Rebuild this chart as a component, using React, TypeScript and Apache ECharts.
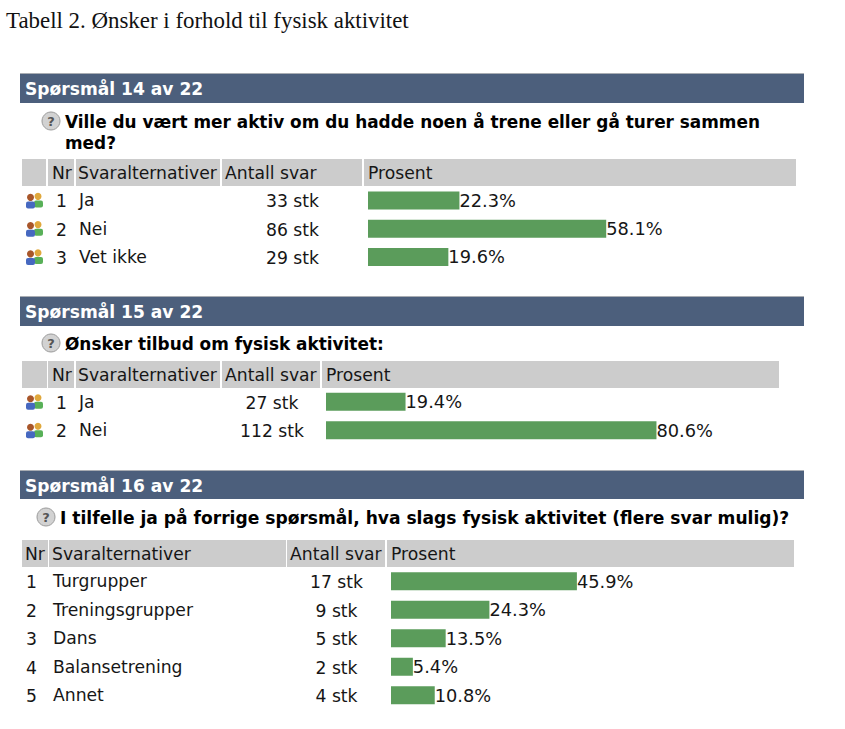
import React, { useEffect, useRef } from "react";
import * as echarts from "echarts";

const pageTitle = "Tabell 2. Ønsker i forhold til fysisk aktivitet";
const headerLabels = ["Nr", "Svaralternativer", "Antall svar", "Prosent"];

const q14Banner = "Spørsmål 14 av 22";
const q14Lines = ["Ville du vært mer aktiv om du hadde noen å trene eller gå turer sammen", "med?"];
const q14Options = ["Ja", "Nei", "Vet ikke"];
const q14Counts = ["33 stk", "86 stk", "29 stk"];
const q14Percent = [22.3, 58.1, 19.6];

const q15Banner = "Spørsmål 15 av 22";
const q15Lines = ["Ønsker tilbud om fysisk aktivitet:"];
const q15Options = ["Ja", "Nei"];
const q15Counts = ["27 stk", "112 stk"];
const q15Percent = [19.4, 80.6];

const q16Banner = "Spørsmål 16 av 22";
const q16Lines = ["I tilfelle ja på forrige spørsmål, hva slags fysisk aktivitet (flere svar mulig)?"];
const q16Options = ["Turgrupper", "Treningsgrupper", "Dans", "Balansetrening", "Annet"];
const q16Counts = ["17 stk", "9 stk", "5 stk", "2 stk", "4 stk"];
const q16Percent = [45.9, 24.3, 13.5, 5.4, 10.8];

const FONT = "'DejaVu Sans', Verdana, sans-serif";
const INK = "#161616";
const BODY_SIZE = 17.2;
const BOLD_SIZE = 16.9;

const txt = (text: string, x: number, y: number, extra: any = {}) => ({
  type: "text",
  x,
  y,
  silent: true,
  style: { text, fontFamily: FONT, fontSize: BODY_SIZE, fill: INK, textVerticalAlign: "middle", ...extra },
});
const rect = (x0: number, y0: number, x1: number, y1: number, fill: string) => ({
  type: "rect",
  silent: true,
  shape: { x: x0, y: y0, width: x1 - x0, height: y1 - y0 },
  style: { fill },
});

const peopleIcon = (x: number, y: number) => ({
  type: "group",
  x,
  y,
  silent: true,
  children: [
    { type: "circle", shape: { cx: 13, cy: 4, r: 3.5 }, style: { fill: "#e0a83c" } },
    { type: "rect", shape: { x: 9, y: 8, width: 9, height: 7, r: 2 }, style: { fill: "#58b058" } },
    { type: "circle", shape: { cx: 5.5, cy: 5, r: 3.5 }, style: { fill: "#a8562a" } },
    { type: "rect", shape: { x: 1, y: 9, width: 9, height: 7, r: 2 }, style: { fill: "#4668c0" } },
  ],
});

const helpIcon = (cx: number, cy: number) => ({
  type: "group",
  silent: true,
  children: [
    { type: "circle", shape: { cx, cy, r: 9 }, style: { fill: "#d2d2d2", stroke: "#9a9a9a", lineWidth: 1 } },
    txt("?", cx, cy + 0.5, { fontSize: 13, fontWeight: "bold", fill: "#555", textAlign: "center" }),
  ],
});

type Block = {
  banner: string;
  bannerTop: number;
  bannerBottom: number;
  lines: string[];
  lineY: number;
  lineX: number;
  helpX: number;
  boldSize: number;
  headTop: number;
  headBottom: number;
  cells: [number, number][];
  labelX: number[];
  hasIcons: boolean;
  nrX: number;
  countX: number;
  counts: string[];
  rowTop: number;
  pitch: number;
  barLeft: number;
  pxPerPct: number;
  options: string[];
  values: number[];
  optionX: number;
};

const blocks: Block[] = [
  {
    banner: q14Banner, bannerTop: 74, bannerBottom: 103, lines: q14Lines, lineY: 122, lineX: 65, helpX: 51, boldSize: BOLD_SIZE,
    headTop: 159, headBottom: 186, cells: [[22, 46], [48, 74], [76, 220], [222, 362], [364, 796]],
    labelX: [52, 78, 225, 368], hasIcons: true, nrX: 56, countX: 292.5, counts: q14Counts,
    rowTop: 186.25, pitch: 28.25, barLeft: 368, pxPerPct: 4.1, options: q14Options, values: q14Percent, optionX: 79,
  },
  {
    banner: q15Banner, bannerTop: 297, bannerBottom: 326, lines: q15Lines, lineY: 344, lineX: 65, helpX: 51, boldSize: BOLD_SIZE,
    headTop: 361, headBottom: 388, cells: [[22, 47], [48, 74], [76, 220], [222, 320], [322, 779]],
    labelX: [52, 78, 225, 326], hasIcons: true, nrX: 56, countX: 272, counts: q15Counts,
    rowTop: 387.5, pitch: 28.5, barLeft: 326, pxPerPct: 4.1, options: q15Options, values: q15Percent, optionX: 79,
  },
  {
    banner: q16Banner, bannerTop: 471, bannerBottom: 499, lines: q16Lines, lineY: 518, lineX: 60, helpX: 46, boldSize: 17.1,
    headTop: 540, headBottom: 567, cells: [[22, 48], [49, 286], [287, 385], [387, 794]],
    labelX: [25, 52, 290, 391], hasIcons: false, nrX: 26, countX: 336.5, counts: q16Counts,
    rowTop: 567, pitch: 28.5, barLeft: 391, pxPerPct: 4.05, options: q16Options, values: q16Percent, optionX: 53,
  },
];

function buildOption() {
  const graphic: any[] = [txt(pageTitle, 6, 20.5, { fontFamily: "'Liberation Serif', serif", fontSize: 22.9, fill: "#111" })];
  const grid: any[] = [];
  const xAxis: any[] = [];
  const yAxis: any[] = [];
  const series: any[] = [];

  blocks.forEach((b, i) => {
    graphic.push(rect(20, b.bannerTop - 1, 804, b.bannerTop, "#a9adb3"));
    graphic.push(rect(20, b.bannerTop, 804, b.bannerBottom, "#4c5f7c"));
    graphic.push(txt(b.banner, 25, (b.bannerTop + b.bannerBottom) / 2 + 0.5, { fontWeight: "bold", fontSize: 17.1, fill: "#ffffff" }));
    b.lines.forEach((line, k) => graphic.push(txt(line, b.lineX, b.lineY + k * 21, { fontWeight: "bold", fontSize: b.boldSize, fill: "#000" })));
    graphic.push(helpIcon(b.helpX, b.lineY - 1));
    b.cells.forEach(([a, c]) => graphic.push(rect(a, b.headTop, c, b.headBottom, "#cccccc")));
    headerLabels.forEach((h, k) => graphic.push(txt(h, b.labelX[k], (b.headTop + b.headBottom) / 2 + 0.5)));
    b.options.forEach((_, r) => {
      const cy = b.rowTop + b.pitch * (r + 0.5) + 1;
      if (b.hasIcons) graphic.push(peopleIcon(25, cy - 9));
      graphic.push(txt(String(r + 1), b.nrX, cy));
      graphic.push(txt(b.counts[r], b.countX, cy, { textAlign: "center" }));
    });

    grid.push({
      left: b.barLeft,
      top: b.rowTop,
      width: b.pxPerPct * 100,
      height: b.pitch * b.options.length,
      containLabel: false,
    });
    xAxis.push({ type: "value", gridIndex: i, min: 0, max: 100, show: false });
    yAxis.push({
      type: "category",
      gridIndex: i,
      inverse: true,
      data: b.options,
      axisLine: { show: false },
      axisTick: { show: false },
      splitLine: { show: false },
      axisLabel: {
        align: "left",
        margin: b.barLeft - b.optionX,
        fontFamily: FONT,
        fontSize: BODY_SIZE,
        color: INK,
        padding: [2, 0, 0, 0],
      },
    });
    series.push({
      type: "bar",
      xAxisIndex: i,
      yAxisIndex: i,
      data: b.values,
      barWidth: 18,
      itemStyle: { color: "#5b9c5b" },
      label: {
        show: true,
        position: "right",
        distance: 0,
        fontFamily: FONT,
        fontSize: 17.8,
        color: INK,
        padding: [2, 0, 0, 0],
        formatter: (p: any) => `${p.value.toFixed(1)}%`,
      },
    });
  });

  return { animation: false, backgroundColor: "#ffffff", graphic: { elements: graphic }, grid, xAxis, yAxis, series, tooltip: { show: false } };
}

export default function App() {
  const ref = useRef<HTMLDivElement>(null);
  useEffect(() => {
    const chart = echarts.init(ref.current!, undefined, { renderer: "svg" });
    chart.setOption(buildOption() as any);
    return () => chart.dispose();
  }, []);
  return <div ref={ref} style={{ position: "absolute", left: 0, top: 0, width: 845, height: 729 }} />;
}
